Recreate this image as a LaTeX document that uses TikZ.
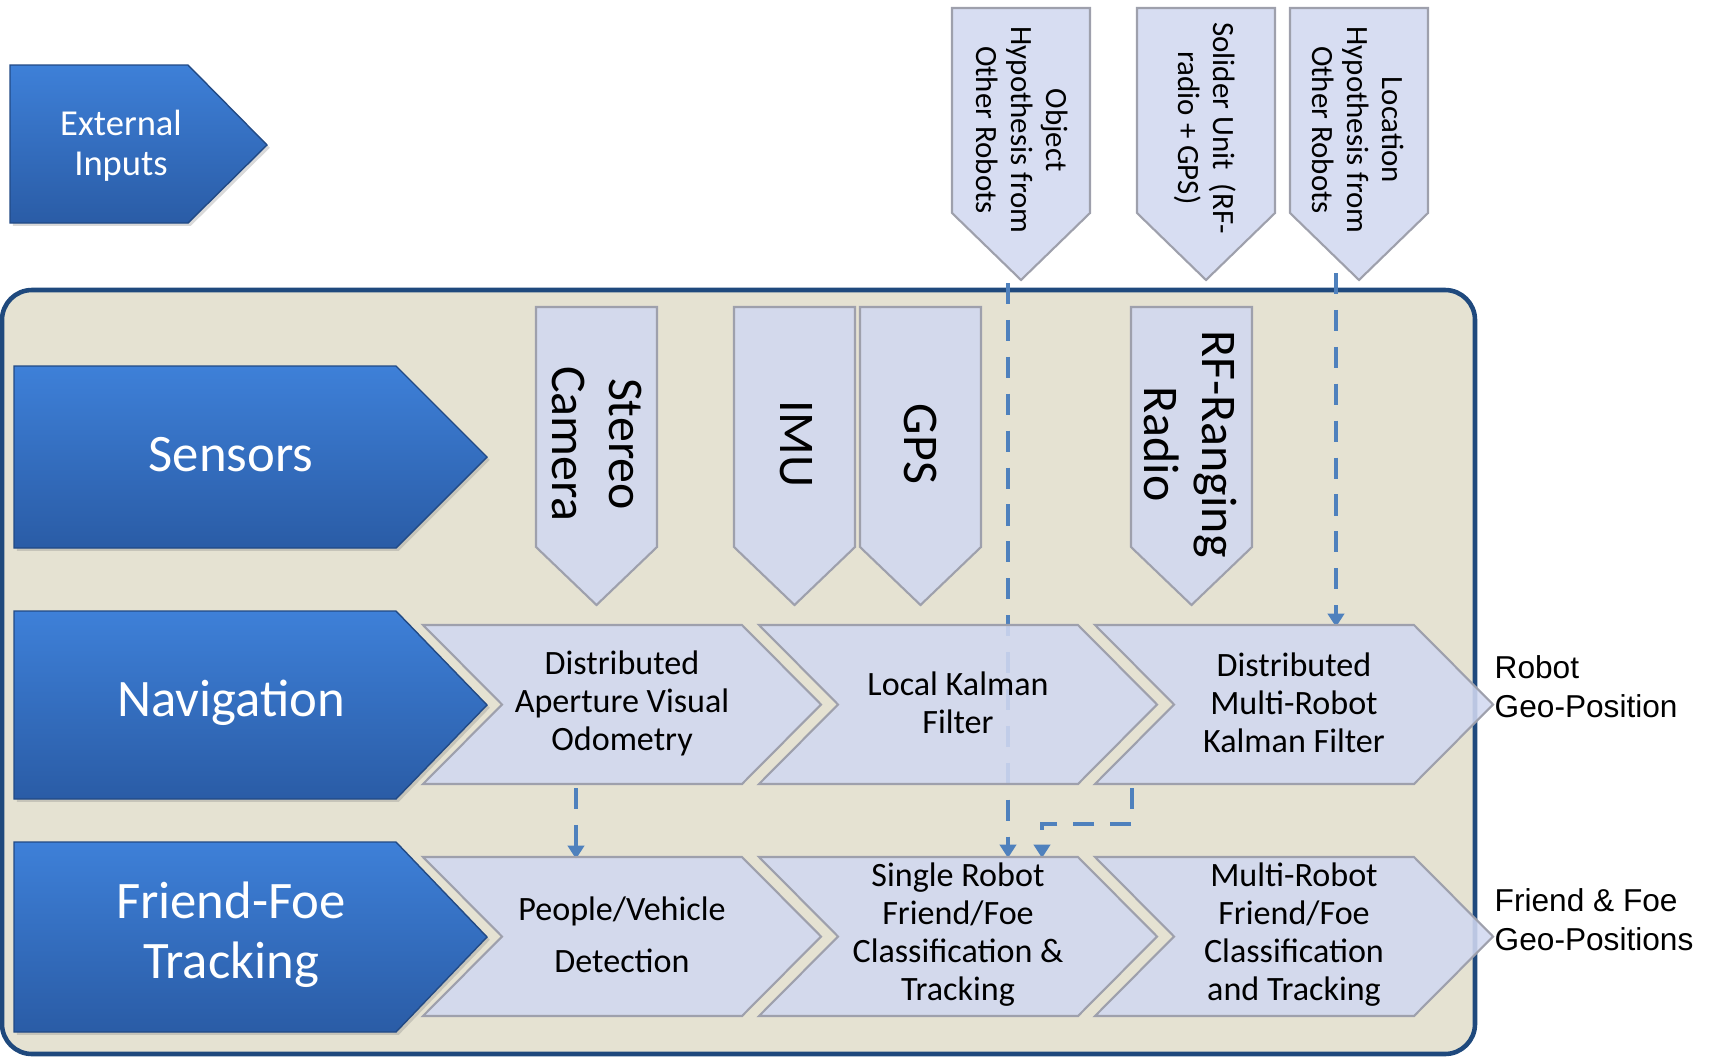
\documentclass[tikz,border=0pt]{standalone}
\usepackage{fontspec}
\setmainfont{Carlito}
\newfontfamily\outfont{Liberation Sans}
\usetikzlibrary{arrows.meta,shadows}
\definecolor{panelfill}{RGB}{229,226,210}
\definecolor{panelline}{RGB}{31,73,125}
\definecolor{stagefill}{RGB}{209,216,240}
\definecolor{stageline}{RGB}{158,160,172}
\definecolor{linkblue}{RGB}{79,129,189}
\definecolor{rowtop}{RGB}{62,128,216}
\definecolor{rowbot}{RGB}{42,92,166}
\tikzset{
  panel/.style={draw=panelline,line width=1.3pt,fill=panelfill,rounded corners=0.3cm},
  rowarrow/.style={draw=rowbot!80!black,line width=0.4pt,top color=rowtop,bottom color=rowbot,
    drop shadow={opacity=0.3,shadow xshift=0.8pt,shadow yshift=-0.8pt}},
  stage/.style={draw=stageline,line width=0.6pt,fill=stagefill,fill opacity=0.88},
  link/.style={draw=linkblue,line width=1.35pt,dash pattern=on 6pt off 4.5pt,
    -{Triangle[length=3.8pt,width=4.6pt]}},
  rowtxt/.style={text=white,align=center,font=\fontsize{15}{17}\selectfont},
  exttxt/.style={text=white,align=center,font=\fontsize{10.4}{11.4}\selectfont},
  sensetxt/.style={rotate=-90,align=center,font=\fontsize{14.2}{16.5}\selectfont},
  intxt/.style={rotate=-90,align=center,font=\fontsize{8.8}{10}\selectfont},
  stagetxt/.style={align=center,font=\fontsize{9.7}{10.8}\selectfont},
  outtxt/.style={anchor=west,inner sep=0pt,align=left,font=\outfont\fontsize{9}{11.1}\selectfont}
}
\begin{document}
\begin{tikzpicture}[x=0.1mm,y=-0.1mm]
  \useasboundingbox (0,0) rectangle (1710,1058);
  % panel
  \draw[panel] (2,290) rectangle (1475,1054);
  % inputs from outside
  \draw[rowarrow] (10,65) -- (188,65) -- (267,145) -- (188,223) -- (10,223) -- cycle;
  \node[exttxt] (ext) at (121,146) {External\\Inputs};
  \foreach \x in {952,1137,1290}
    \draw[stage] (\x,8) -- (\x+138,8) -- (\x+138,213) -- (\x+69,280) -- (\x,213) -- cycle;
  \node[intxt] (objhyp) at (1022,130) {Object\\Hypothesis from\\Other Robots};
  \node[intxt] (soldier) at (1205,128) {Solider Unit~ (RF-\\radio + GPS)};
  \node[intxt] (lochyp) at (1358,130) {Location\\Hypothesis from\\Other Robots};
  % attach points
  \coordinate (obj-out) at (1008,283);
  \coordinate (loc-out) at (1336,273);
  \coordinate (dav-s) at (576,788);
  \coordinate (pvd-n) at (576,859);
  \coordinate (dmk-s) at (1132,788);
  \coordinate (dmk-n) at (1336,627);
  \coordinate (srt-n1) at (1008,858);
  \coordinate (srt-n2) at (1042,858);
  % links
  \draw[link] (obj-out) -- (srt-n1);
  \draw[link] (loc-out) -- (dmk-n);
  \draw[link] (dav-s) -- (pvd-n);
  \draw[link] (dmk-s) -- ++(0,36) -| (srt-n2);
  % rows
  \draw[rowarrow] (14,366) -- (396,366) -- (487,457) -- (396,548) -- (14,548) -- cycle;
  \draw[rowarrow] (14,611) -- (396,611) -- (487,705) -- (396,799) -- (14,799) -- cycle;
  \draw[rowarrow] (14,842) -- (396,842) -- (487,937) -- (396,1032) -- (14,1032) -- cycle;
  \node[rowtxt] (sens) at (231,455) {Sensors};
  \node[rowtxt] (nav) at (231,703) {Navigation};
  \node[rowtxt] (fft) at (231,935) {Friend-Foe\\Tracking};
  % sensors
  \foreach \x in {536,734,860,1131}
    \draw[stage] (\x,307) -- (\x+121,307) -- (\x+121,547) -- (\x+60.5,605) -- (\x,547) -- cycle;
  \node[sensetxt] (cam) at (597,444) {Stereo\\Camera};
  \node[sensetxt] (imu) at (796,444) {IMU};
  \node[sensetxt] (gps) at (921,444) {GPS};
  \node[sensetxt] (rfr) at (1190,444) {RF-Ranging\\Radio};
  % stages
  \foreach \y in {625,857}
    \foreach \x in {423,759,1095}
      \draw[stage] (\x,\y) -- (\x+319,\y) -- (\x+398,\y+79.5) -- (\x+319,\y+159)
        -- (\x,\y+159) -- (\x+79,\y+79.5) -- cycle;
  \node[stagetxt] (dav) at (622,703) {Distributed\\Aperture Visual\\Odometry};
  \node[stagetxt] (lkf) at (958,703) {Local Kalman\\Filter};
  \node[stagetxt] (dmk) at (1294,703) {Distributed\\Multi-Robot\\Kalman Filter};
  \node[stagetxt] (pvd) at (622,935) {People/Vehicle\\[4pt]Detection};
  \node[stagetxt] (srt) at (958,935) {Single Robot\\Friend/Foe\\Classification \&\\Tracking};
  \node[stagetxt] (mrt) at (1294,935) {Multi-Robot\\Friend/Foe\\Classification\\and Tracking};
  % outputs
  \node[outtxt] (robpos) at (1494,687) {Robot\\Geo-Position};
  \node[outtxt] (ffpos) at (1494,920) {Friend \& Foe\\Geo-Positions};
\end{tikzpicture}
\end{document}
